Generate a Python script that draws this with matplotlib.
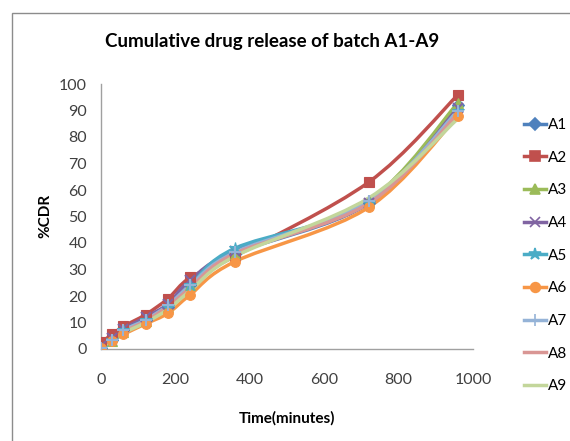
import numpy as np
import matplotlib
matplotlib.use("Agg")
import matplotlib.pyplot as plt
from matplotlib.path import Path
from matplotlib.patches import PathPatch, Rectangle
from matplotlib.lines import Line2D

plt.rcParams["font.family"] = ["Lato", "DejaVu Sans"]

# time points (minutes) and %CDR for each batch
time = [0, 30, 60, 120, 180, 240, 360, 720, 960]
A1 = [0.5, 3.5, 7, 11, 16, 24, 36, 55, 92]
A2 = [2.5, 5.5, 8.5, 13, 19, 27, 35, 63, 96]
A3 = [0.5, 3, 6.5, 10.5, 16, 24, 36, 56, 93]
A4 = [1, 4, 7.5, 12, 17, 26, 37, 55, 91]
A5 = [0.5, 3.5, 7, 11, 16, 24, 38, 55, 90]
A6 = [0.5, 3, 5.5, 9.5, 13.5, 20.5, 33, 53.5, 88]
A7 = [0.5, 3.5, 7, 11, 16.5, 24, 36.5, 56, 90]
A8 = [0.5, 3, 6.5, 10.5, 16, 23, 36, 55, 89]
A9 = [0.5, 3, 6, 10, 15, 22, 35, 57, 87]

series = [
    ("A1", A1, "#4F81BD", "D", 6),
    ("A2", A2, "#C0504D", "s", 7),
    ("A3", A3, "#9BBB59", "^", 7),
    ("A4", A4, "#8064A2", "x", 7),
    ("A5", A5, "#4BACC6", "*", 9),
    ("A6", A6, "#F79646", "o", 7),
    ("A7", A7, "#95B3D7", "+", 8),
    ("A8", A8, "#D99694", "None", 0),
    ("A9", A9, "#C3D69B", "None", 0),
]


def smooth_path(x, y):
    # Excel-style smoothed line: Catmull-Rom segments as cubic Beziers
    pts = np.column_stack([x, y]).astype(float)
    n = len(pts)
    verts = [pts[0]]
    codes = [Path.MOVETO]
    for i in range(n - 1):
        p0 = pts[max(i - 1, 0)]
        p1 = pts[i]
        p2 = pts[i + 1]
        p3 = pts[min(i + 2, n - 1)]
        verts += [p1 + (p2 - p0) / 6, p2 - (p3 - p1) / 6, p2]
        codes += [Path.CURVE4] * 3
    return Path(verts, codes)


W, H = 570, 441
fig = plt.figure(figsize=(W / 100, H / 100), dpi=100)
# chart-area border (left and top edges visible, rest runs off the picture)
fig.patches.append(Rectangle((12 / W, -0.05), 1.1, (H - 13) / H + 0.05,
                             transform=fig.transFigure, fill=False,
                             edgecolor="#8c8c8c", linewidth=1.0))
ax = fig.add_axes([101 / W, 92 / H, 372 / W, 265 / H])

handles = []
for name, vals, color, marker, ms in series:
    ax.add_patch(PathPatch(smooth_path(time, vals), fill=False,
                           edgecolor=color, linewidth=2.5, zorder=2))
    if marker != "None":
        mew = 1.5 if marker in ("x", "+") else 0.8
        ax.plot(time, vals, linestyle="None", marker=marker, markersize=ms,
                color=color, markeredgewidth=mew, zorder=3)
    handles.append(Line2D([], [], color=color, linewidth=2.5, marker=marker,
                          markersize=ms, markeredgewidth=1.2))

ax.set_xlim(0, 1000)
ax.set_ylim(0, 100)
ax.set_xticks(range(0, 1001, 200))
ax.set_yticks(range(0, 101, 10))
ax.tick_params(length=0, labelsize=11.5, colors="#404040")
ax.tick_params(axis="x", pad=17)
ax.tick_params(axis="y", pad=10)
for s in ["top", "right"]:
    ax.spines[s].set_visible(False)
for s in ["left", "bottom"]:
    ax.spines[s].set_color("#a0a0a0")
    ax.spines[s].set_linewidth(1.0)

fig.text(287 / W, 1 - 418 / H, "Time(minutes)", ha="center", va="center",
         fontsize=11, fontweight="bold")
fig.text(45 / W, 1 - 216 / H, "%CDR", ha="center", va="center",
         rotation=90, fontsize=11, fontweight="bold")
fig.text(272 / W, 1 - 42 / H, "Cumulative drug release of batch A1-A9",
         ha="center", va="center", fontsize=13.5, fontweight="bold")

fig.legend(handles=handles, labels=[s[0] for s in series],
           loc="upper left", bbox_to_anchor=(518 / W, 1 - 112 / H),
           frameon=False, fontsize=11, handlelength=1.4, handletextpad=0.15,
           labelspacing=1.22, borderaxespad=0)

fig.savefig("out.png", dpi=100)
